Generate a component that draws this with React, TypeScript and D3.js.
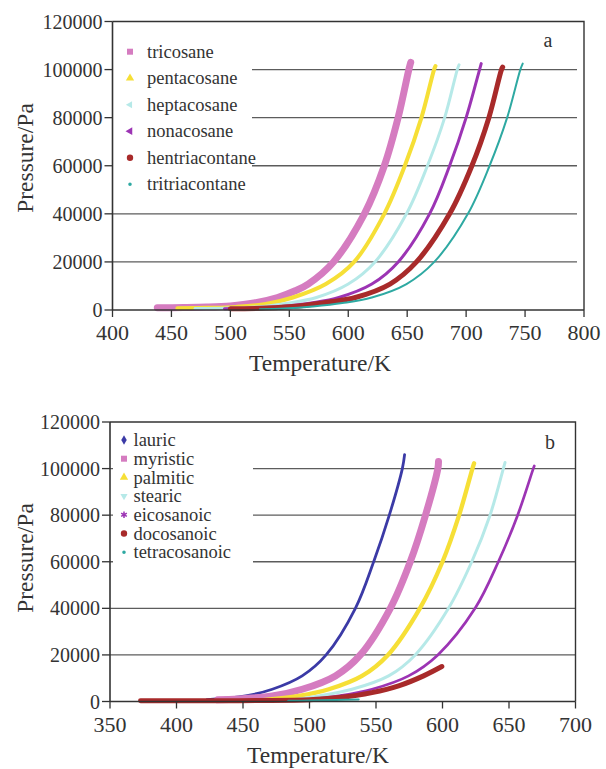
import React from 'react';
import * as d3 from 'd3';

type Pt = [number, number]; // [temperature K, pressure Pa]

// ---- Panel a: n-alkanes ----
const alkaneNames = ['tricosane', 'pentacosane', 'heptacosane', 'nonacosane', 'hentriacontane', 'tritriacontane'];

const tricosane: Pt[] = [
  [438, 900], [460, 1000], [480, 1200], [500, 1700], [520, 2900], [540, 5200], [555, 8000],
  [566, 10800], [587.5, 20000], [613.7, 40000], [630.6, 60000], [642.3, 80000], [651.4, 100000], [653, 103000],
];
const pentacosane: Pt[] = [
  [455, 700], [480, 900], [505, 1300], [530, 2500], [553, 5200], [581, 10800], [605, 20000],
  [630.6, 40000], [648, 60000], [662.1, 80000], [672.8, 100000], [674, 101500],
];
const heptacosane: Pt[] = [
  [470, 600], [500, 800], [530, 1600], [550, 2900], [573, 5200], [600, 10800], [622.7, 20000],
  [649.4, 40000], [667.2, 60000], [681.8, 80000], [692.5, 100000], [694, 102000],
];
const nonacosane: Pt[] = [
  [495, 500], [520, 800], [550, 1800], [570, 3000], [592, 5200], [620, 10800], [642.4, 20000],
  [669, 40000], [686, 60000], [700, 80000], [711.4, 100000], [712.8, 102500],
];
const hentriacontane: Pt[] = [
  [500, 500], [530, 800], [560, 1800], [585, 3400], [606, 5200], [635.4, 10800], [657.9, 20000],
  [686, 40000], [704.9, 60000], [719.3, 80000], [730, 100000], [731, 101000],
];
const tritriacontane: Pt[] = [
  [525, 300], [545, 600], [570, 1500], [595, 2900], [620, 5200], [649.4, 10800], [673, 20000],
  [701.5, 40000], [719.9, 60000], [734.8, 80000], [746, 100000], [748, 102500],
];
const alkaneSeries = [tricosane, pentacosane, heptacosane, nonacosane, hentriacontane, tritriacontane];
const alkaneTempTicks = [400, 450, 500, 550, 600, 650, 700, 750, 800];

// ---- Panel b: fatty acids ----
const acidNames = ['lauric', 'myristic', 'palmitic', 'stearic', 'eicosanoic', 'docosanoic', 'tetracosanoic'];

const lauric: Pt[] = [
  [423, 800], [452, 2400], [472, 5250], [494.5, 11000], [512.5, 20000], [534.5, 40000],
  [548.25, 60000], [560, 80000], [569.8, 100000], [571.5, 106000],
];
const myristic: Pt[] = [
  [431, 700], [472, 2400], [494.5, 5250], [519.5, 11000], [538.25, 20000], [560.75, 40000],
  [575.75, 60000], [587.2, 80000], [596.5, 100000], [597, 103000],
];
const palmitic: Pt[] = [
  [465, 600], [492, 2400], [514.5, 5250], [539.5, 11000], [559, 20000], [583, 40000],
  [600, 60000], [612.5, 80000], [622.5, 100000], [623.75, 102300],
];
const stearic: Pt[] = [
  [484, 500], [507, 2400], [532, 5250], [559.5, 11000], [579.5, 20000], [604.5, 40000],
  [622, 60000], [635.75, 80000], [645.75, 100000], [647, 102600],
];
const eicosanoic: Pt[] = [
  [495, 500], [522, 2400], [547, 5250], [574.5, 11000], [596.5, 20000], [624.5, 40000],
  [642, 60000], [656.5, 80000], [668.25, 100000], [669, 101150],
];
const docosanoic: Pt[] = [
  [373, 300], [420, 300], [460, 400], [500, 700], [522, 1680], [547, 3830], [567, 6700],
  [585.75, 11000], [599.5, 15000],
];
const tetracosanoic: Pt[] = [
  [484, 300], [500, 400], [520, 600], [537, 900],
];
const acidSeries = [lauric, myristic, palmitic, stearic, eicosanoic, docosanoic, tetracosanoic];
const acidTempTicks = [350, 400, 450, 500, 550, 600, 650, 700];

const pressureTicks = [0, 20000, 40000, 60000, 80000, 100000, 120000];

const FONT = '"Liberation Serif", "Times New Roman", Times, "DejaVu Serif", serif';
const INK = '#333';

type Marker = 'square' | 'triangle' | 'triLeft' | 'arrowLeft' | 'circle' | 'dot' | 'diamond' | 'triDown' | 'asterisk';

interface PanelProps {
  label: string;
  names: string[];
  series: Pt[][];
  colors: string[];
  widths: number[];
  markers: Marker[];
  xTicks: number[];
  xRange: [number, number];
  yRange: [number, number]; // [bottom, top]
  gridEnd: number;
  legendBox: { x: number; y: number; w: number; h: number };
  legendX: number;
  legendTextX: number;
  legendY0: number;
  legendStep: number;
  xTitleX: number;
  yTitleY: number;
  letterPos: [number, number];
}

function markerPath(m: Marker): { d: string; rotate: number; stroke: boolean } {
  const sym = d3.symbol();
  switch (m) {
    case 'square': return { d: sym.type(d3.symbolSquare).size(36)()!, rotate: 0, stroke: false };
    case 'triangle': return { d: sym.type(d3.symbolTriangle).size(30)()!, rotate: 0, stroke: false };
    case 'triLeft': return { d: sym.type(d3.symbolTriangle).size(22)()!, rotate: -90, stroke: false };
    case 'arrowLeft': return { d: sym.type(d3.symbolTriangle).size(26)()!, rotate: -90, stroke: false };
    case 'circle': return { d: sym.type(d3.symbolCircle).size(32)()!, rotate: 0, stroke: false };
    case 'dot': return { d: sym.type(d3.symbolCircle).size(10)()!, rotate: 0, stroke: false };
    case 'diamond': return { d: sym.type(d3.symbolDiamond).size(26)()!, rotate: 0, stroke: false };
    case 'triDown': return { d: sym.type(d3.symbolTriangle).size(22)()!, rotate: 180, stroke: false };
    case 'asterisk': return { d: sym.type(d3.symbolAsterisk).size(30)()!, rotate: 0, stroke: true };
  }
}

const txt = (size: number): React.CSSProperties => ({ fontFamily: FONT, fontSize: size, fill: INK });

function Panel(p: PanelProps) {
  const x = d3.scaleLinear().domain([p.xTicks[0], p.xTicks[p.xTicks.length - 1]]).range(p.xRange);
  const y = d3.scaleLinear().domain([0, 120000]).range(p.yRange);
  const line = d3.line<Pt>().x(d => x(d[0])).y(d => y(d[1])).curve(d3.curveCatmullRom.alpha(0.5));
  const [x0, x1] = p.xRange;
  const [yB, yT] = p.yRange;

  return (
    <g>
      {/* horizontal grid */}
      {pressureTicks.filter(v => v > 0 && v < 120000).map(v => (
        <line key={v} x1={x0} x2={p.gridEnd} y1={y(v)} y2={y(v)} stroke="#5c5c5c" strokeWidth={1.3} />
      ))}
      {/* legend backdrop */}
      <rect x={p.legendBox.x} y={p.legendBox.y} width={p.legendBox.w} height={p.legendBox.h} fill="#fff" />

      {/* vapour pressure curves */}
      {p.series.map((s, i) => (
        <path key={i} d={line(s)!} fill="none" stroke={p.colors[i]} strokeWidth={p.widths[i]}
          strokeLinecap="round" strokeLinejoin="round" />
      ))}

      {/* frame */}
      <path d={`M${x0},${yT}H${x1}V${yB}`} fill="none" stroke={INK} strokeWidth={1.4} />
      <line x1={x0} x2={x0} y1={yT} y2={yB} stroke={INK} strokeWidth={1.6} />
      <line x1={x0} x2={x1} y1={yB} y2={yB} stroke={INK} strokeWidth={1.6} />

      {/* y axis */}
      {pressureTicks.map(v => (
        <g key={v}>
          <line x1={x0 - 8} x2={x0} y1={y(v)} y2={y(v)} stroke={INK} strokeWidth={1.3} />
          <text x={x0 - 10} y={y(v)} dy="0.35em" textAnchor="end" style={txt(20)}>{v}</text>
        </g>
      ))}
      {/* x axis */}
      {p.xTicks.map(v => (
        <g key={v}>
          <line x1={x(v)} x2={x(v)} y1={yB} y2={yB + 7} stroke={INK} strokeWidth={1.3} />
          <text x={x(v)} y={yB + 30} textAnchor="middle" style={txt(22)}>{v}</text>
        </g>
      ))}

      <text x={p.xTitleX} y={yB + 61} textAnchor="middle" style={txt(23.5)}>Temperature/K</text>
      <text transform={`translate(33,${p.yTitleY}) rotate(-90)`} textAnchor="middle" style={txt(23.5)}>Pressure/Pa</text>
      <text x={p.letterPos[0]} y={p.letterPos[1]} dy="0.35em" textAnchor="middle" style={txt(20)}>{p.label}</text>

      {/* legend */}
      {p.names.map((n, i) => {
        const ly = p.legendY0 + i * p.legendStep;
        const mk = markerPath(p.markers[i]);
        return (
          <g key={n}>
            <path d={mk.d} transform={`translate(${p.legendX},${ly}) rotate(${mk.rotate})`}
              fill={mk.stroke ? 'none' : p.colors[i]} stroke={mk.stroke ? p.colors[i] : 'none'} strokeWidth={1.5} />
            <text x={p.legendTextX} y={ly} dy="0.33em" style={txt(18.5)}>{n}</text>
          </g>
        );
      })}
    </g>
  );
}

export default function App() {
  return (
    <svg width={606} height={769} style={{ position: 'absolute', left: 0, top: 0, background: '#fff' }}>
      <Panel
        label="a"
        names={alkaneNames}
        series={alkaneSeries}
        colors={['#d57cc0', '#f6df36', '#b6e9e8', '#9c34b4', '#a82a2a', '#2ea9a2']}
        widths={[7, 4, 3, 3, 5, 2]}
        markers={['square', 'triangle', 'triLeft', 'arrowLeft', 'circle', 'dot']}
        xTicks={alkaneTempTicks}
        xRange={[112.5, 584]}
        yRange={[310, 21.5]}
        gridEnd={577}
        legendBox={{ x: 113, y: 28, w: 139, h: 172 }}
        legendX={130}
        legendTextX={147}
        legendY0={51.7}
        legendStep={26.5}
        xTitleX={320}
        yTitleY={158}
        letterPos={[548, 40]}
      />
      <Panel
        label="b"
        names={acidNames}
        series={acidSeries}
        colors={['#3b3aa6', '#d57cc0', '#f6df36', '#b6e9e8', '#9c34b4', '#a82a2a', '#2ea9a2']}
        widths={[2.8, 7, 4.3, 3, 2.7, 5, 2]}
        markers={['diamond', 'square', 'triangle', 'triDown', 'asterisk', 'circle', 'dot']}
        xTicks={acidTempTicks}
        xRange={[110, 575.5]}
        yRange={[701.5, 422]}
        gridEnd={575.5}
        legendBox={{ x: 113, y: 426, w: 140, h: 139 }}
        legendX={124}
        legendTextX={133.5}
        legendY0={440}
        legendStep={18.7}
        xTitleX={318}
        yTitleY={558}
        letterPos={[550, 442]}
      />
    </svg>
  );
}
